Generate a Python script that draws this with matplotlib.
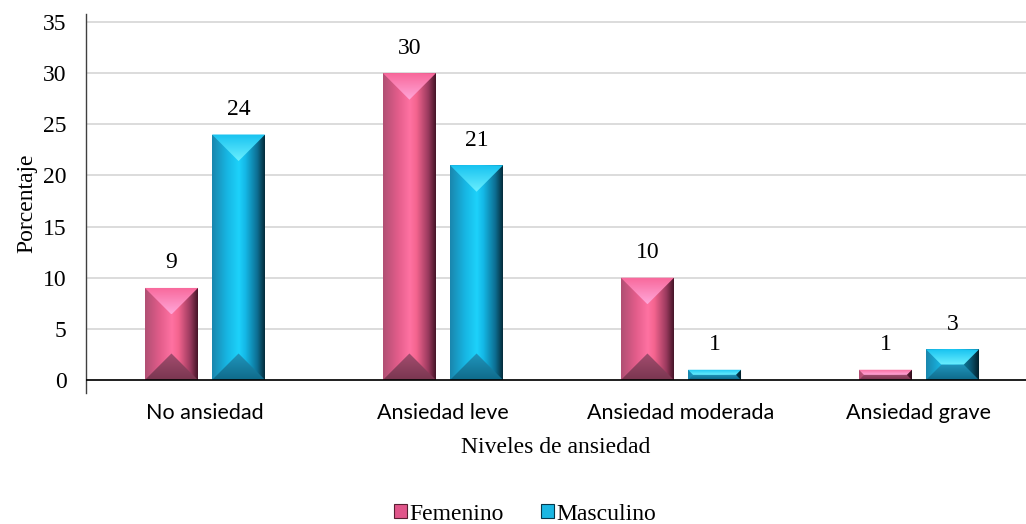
import numpy as np
import matplotlib
matplotlib.use("Agg")
import matplotlib.pyplot as plt
from matplotlib.colors import LinearSegmentedColormap
from matplotlib.patches import Polygon, Rectangle

categories = ["No ansiedad", "Ansiedad leve", "Ansiedad moderada", "Ansiedad grave"]
femenino = [9, 30, 10, 1]
masculino = [24, 21, 1, 3]
series_names = ["Femenino", "Masculino"]
yticks = [0, 5, 10, 15, 20, 25, 30, 35]

serif = ["Liberation Serif", "DejaVu Serif"]
sans = ["Lato", "DejaVu Sans"]

# face gradient stops (left -> right), top facet (edge -> apex), bottom facet (edge -> apex)
styles = [
    dict(face=["#b04f73", "#e35d8b", "#ff72a2", "#f4648f", "#9a3a5e", "#3a1020"],
         top=["#f8679a", "#ffa8da"], bottom=["#7a3650", "#a34d6f"],
         legend="#e0558a", edge="#5a1f33"),
    dict(face=["#1a86ad", "#17b6e3", "#1dd2fb", "#14b8e6", "#0d6f93", "#03222e"],
         top=["#17c2f0", "#6cf0ff"], bottom=["#0f6a8a", "#2096bd"],
         legend="#1bb7e3", edge="#06384b"),
]
face_pos = [0.0, 0.28, 0.5, 0.62, 0.84, 1.0]

W, H, DPI = 10.26, 5.24, 100
fig = plt.figure(figsize=(W, H), dpi=DPI)
ax = fig.add_axes([86 / 1026, 1 - 393 / 524, 1 - 86 / 1026, (393 - 14) / 524])

x = np.arange(len(categories))
bw = 0.223
off = 0.141
XLIM = (-0.5, (1026 - 205) / 238)
YLIM = (-1.27, 35.78)
ax.set_xlim(*XLIM)
ax.set_ylim(*YLIM)

for yv in yticks:
    ax.axhline(yv, color="#d9d9d9", lw=1.3, zorder=0)
ax.axhline(0, color="black", lw=1.2, zorder=5)

for s in ["top", "right", "bottom"]:
    ax.spines[s].set_visible(False)
ax.spines["left"].set_color("#404040")
ax.spines["left"].set_linewidth(1.0)

ax.set_yticks(yticks)
ax.set_yticklabels([str(v) for v in yticks])
ax.tick_params(axis="y", length=0, pad=14)
ax.set_xticks(x)
ax.set_xticklabels(categories)
ax.tick_params(axis="x", length=0, pad=7)

ax.set_ylabel("Porcentaje", fontfamily=serif, fontsize=17, labelpad=4)
ax.set_xlabel("Niveles de ansiedad", fontfamily=serif, fontsize=17, labelpad=10)

to_px = ax.transData
to_data = ax.transData.inverted()


def gradient_fill(pts_px, colors, vertical, zorder, positions=None):
    pts = to_data.transform(pts_px)
    poly = Polygon(pts, closed=True, facecolor="none", edgecolor="none")
    ax.add_patch(poly)
    if positions is None:
        positions = np.linspace(0, 1, len(colors))
    cmap = LinearSegmentedColormap.from_list("g", list(zip(positions, colors)))
    g = np.linspace(0, 1, 256)
    grad = g.reshape(-1, 1) if vertical else g.reshape(1, -1)
    xs, ys = pts[:, 0], pts[:, 1]
    im = ax.imshow(grad, extent=[xs.min(), xs.max(), ys.min(), ys.max()],
                   origin="lower", aspect="auto", cmap=cmap, zorder=zorder,
                   interpolation="bilinear")
    im.set_clip_path(poly)


def bevel(rect, st):
    x0, y0 = rect.get_x(), rect.get_y()
    x1, y1 = x0 + rect.get_width(), y0 + rect.get_height()
    (px0, py0), (px1, py1) = to_px.transform([(x0, y0), (x1, y1)])
    pw, ph = px1 - px0, py1 - py0
    d = min(pw, ph) / 2.0
    face = [(px0, py0), (px1, py0), (px1, py1), (px0, py1)]
    gradient_fill(face, st["face"], False, 3, face_pos)
    top = [(px0, py1), (px1, py1), (px1 - d, py1 - d), (px0 + d, py1 - d)]
    bot = [(px0, py0), (px1, py0), (px1 - d, py0 + d), (px0 + d, py0 + d)]
    # top facet: lighter towards apex (downwards), bottom facet lighter upwards
    gradient_fill(top, st["top"][::-1], True, 4)
    gradient_fill(bot, st["bottom"], True, 4)
    # subtle darkening of the right part of the facets
    rside = [(px1, py0), (px1, py1), (px1 - d, py1 - d), (px1 - d, py0 + d)]
    if ph < pw:
        ax.add_patch(Polygon(to_data.transform(rside), closed=True, facecolor="black",
                             edgecolor="none", alpha=0.25, zorder=4.5))


for i, (vals, st) in enumerate(zip([femenino, masculino], styles)):
    pos = x + (-off if i == 0 else off)
    bars = ax.bar(pos, vals, bw, color="none", edgecolor="none", zorder=3)
    for rect, v in zip(bars, vals):
        bevel(rect, st)
        ax.annotate(str(v), (rect.get_x() + rect.get_width() / 2, v),
                    xytext=(0, 18), textcoords="offset points", ha="center",
                    va="center", fontfamily=serif, fontsize=17, zorder=6)

ax.set_xlim(*XLIM)
ax.set_ylim(*YLIM)

for lab in ax.get_yticklabels():
    lab.set_fontfamily(serif)
    lab.set_fontsize(17)
for lab in ax.get_xticklabels():
    lab.set_fontfamily(sans)
    lab.set_fontsize(15.5)

handles = [Rectangle((0, 0), 1, 1, facecolor=st["legend"], edgecolor=st["edge"], lw=0.8)
           for st in styles]
fig.legend(handles, series_names, loc="center", bbox_to_anchor=(525 / 1026, 1 - 514 / 524),
           ncol=2, frameon=False, prop={"family": serif, "size": 17},
           handlelength=0.55, handleheight=0.55, handletextpad=0.1, columnspacing=1.6)

fig.savefig("out.png", dpi=DPI)
